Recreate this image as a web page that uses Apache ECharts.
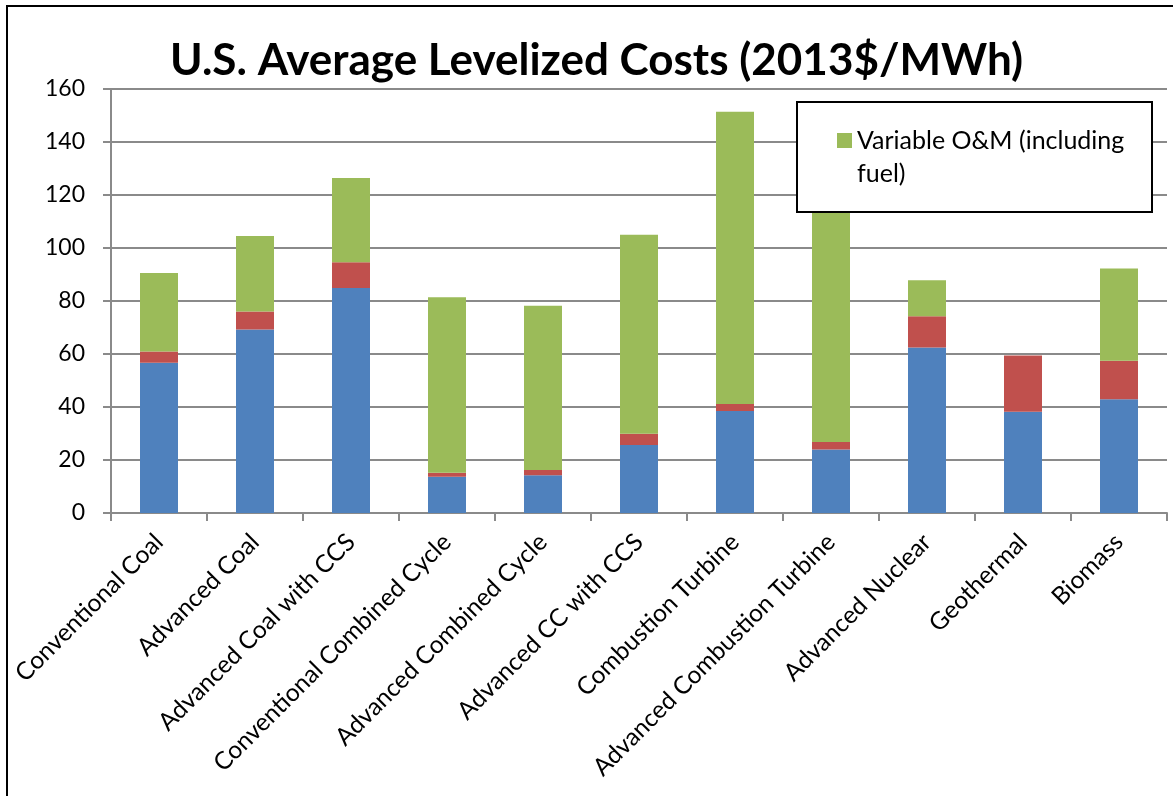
<!DOCTYPE html>
<html>
<head>
<meta charset="utf-8">
<title>U.S. Average Levelized Costs</title>
<script src="https://cdn.jsdelivr.net/npm/echarts@6/dist/echarts.min.js"></script>
<style>
  html, body { margin: 0; padding: 0; background: #fff; }
  #chart { width: 1173px; height: 796px; }
</style>
</head>
<body>
<div id="chart"></div>
<script>
  // categories (x axis)
  var categories = ['Conventional Coal', 'Advanced Coal', 'Advanced Coal with CCS',
    'Conventional Combined Cycle', 'Advanced Combined Cycle', 'Advanced CC with CCS',
    'Combustion Turbine', 'Advanced Combustion Turbine', 'Advanced Nuclear',
    'Geothermal', 'Biomass'];

  // stacked parts, 2013$/MWh
  var capitalCost = [56.7, 69.2, 84.9, 13.7, 14.2, 25.7, 38.5, 24.0, 62.5, 38.2, 42.9];
  var fixedOM = [4.2, 6.8, 9.7, 1.5, 2.0, 4.2, 2.6, 2.8, 11.7, 21.2, 14.6];
  var variableOM = [29.7, 28.5, 31.8, 66.2, 62.0, 75.1, 110.3, 90.2, 13.6, 0, 34.8];

  var yTicks = [0, 20, 40, 60, 80, 100, 120, 140, 160];

  var seriesNames = ['Levelized capital cost', 'Fixed O&M', 'Variable O&M (including fuel)'];
  var colors = ['#4f81bd', '#c0504d', '#9bbb59'];

  var font = 'Lato, "Noto Sans", sans-serif';
  var gridColor = '#8a8a8a';

  var chart = echarts.init(document.getElementById('chart'));

  function barSeries(idx, data) {
    return {
      name: seriesNames[idx],
      type: 'bar',
      stack: 'cost',
      barWidth: 38,
      itemStyle: { color: colors[idx] },
      data: data
    };
  }

  var option = {
    animation: false,
    backgroundColor: '#fff',
    title: {
      text: 'U.S. Average Levelized Costs (2013$/MWh)',
      left: 165,
      top: 34,
      textStyle: {
        fontFamily: font,
        fontSize: 44,
        fontWeight: 'bold',
        color: '#000'
      }
    },
    grid: {
      left: 111,
      right: 6,
      top: 89,
      bottom: 283
    },
    legend: {
      data: [seriesNames[2]],
      left: 837,
      top: 91,
      padding: 0,
      itemWidth: 15,
      itemHeight: 15,
      icon: 'rect',
      // empty first line so the icon sits beside the first text line
      formatter: function () { return ' \nVariable O&M (including\nfuel)'; },
      textStyle: {
        fontFamily: font,
        fontSize: 25,
        lineHeight: 33,
        color: '#000'
      }
    },
    xAxis: {
      type: 'category',
      data: categories,
      axisLine: { lineStyle: { color: gridColor, width: 2 } },
      axisTick: { show: true, length: 8, lineStyle: { color: gridColor, width: 2 } },
      axisLabel: {
        interval: 0,
        rotate: 45,
        margin: 25,
        color: '#000',
        fontFamily: font,
        fontSize: 24.5
      }
    },
    yAxis: {
      type: 'value',
      min: yTicks[0],
      max: yTicks[yTicks.length - 1],
      interval: 20,
      axisLine: { show: true, lineStyle: { color: gridColor, width: 2 } },
      axisTick: { show: true, length: 8, lineStyle: { color: gridColor, width: 2 } },
      axisLabel: {
        margin: 26,
        color: '#000',
        fontFamily: font,
        fontSize: 23
      },
      splitLine: { lineStyle: { color: gridColor, width: 2 } }
    },
    graphic: [
      // outer chart frame (runs off right / bottom edge)
      {
        type: 'rect',
        z: 0,
        shape: { x: 7, y: 6, width: 1180, height: 800 },
        style: { fill: 'none', stroke: '#000', lineWidth: 2 }
      },
      // legend box
      {
        type: 'rect',
        z: 3,
        shape: { x: 797, y: 102, width: 355, height: 110 },
        style: { fill: '#fff', stroke: '#000', lineWidth: 2 }
      }
    ],
    series: [
      barSeries(0, capitalCost),
      barSeries(1, fixedOM),
      barSeries(2, variableOM)
    ]
  };

  chart.setOption(option);
</script>
</body>
</html>
